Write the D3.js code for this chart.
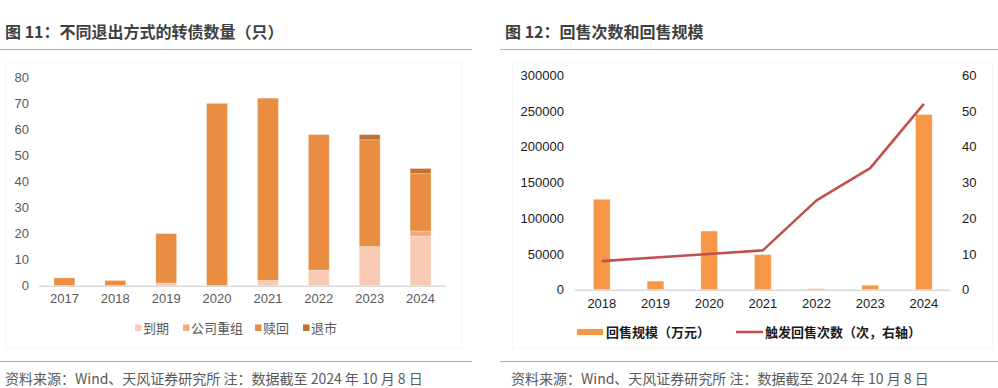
<!DOCTYPE html>
<html><head><meta charset="utf-8">
<script src="https://cdn.jsdelivr.net/npm/d3@7"></script>
<style>
body{margin:0;background:#fff;}
svg text{font-family:"Liberation Sans","Noto Sans CJK SC",sans-serif;}
.cjk{font-family:"Noto Sans CJK SC",sans-serif;}
</style></head>
<body><svg id="c" width="998" height="388"></svg>
<script>
// ---------- Data: chart 11 ----------
const years1 = ["2017","2018","2019","2020","2021","2022","2023","2024"];
const seriesNames1 = ["到期","公司重组","赎回","退市"];
const daoqi   = [0,0,1,0,2,6,15,19];
const chongzu = [0,0,0,0,0,0,0,2];
const shuhui  = [3,2,19,70,70,52,41,22];
const tuishi  = [0,0,0,0,0,0,2,2];
const yTicks1 = [0,10,20,30,40,50,60,70,80];
// ---------- Data: chart 12 ----------
const years2 = ["2018","2019","2020","2021","2022","2023","2024"];
const scale2 = [126500,12000,82000,49000,1400,6200,245000];
const count2 = [8,9,10,11,25,34,52];
const yTicksL = [0,50000,100000,150000,200000,250000,300000];
const yTicksR = [0,10,20,30,40,50,60];

const svg = d3.select("#c");
const colors1 = ["#F8CAB4","#F5A97A","#E88D42","#C2722F"];

// Titles and rules
function header(x0, x1, title){
  svg.append("text").attr("class","cjk").attr("x",x0+5).attr("y",38)
    .attr("font-size",16).attr("font-weight","bold").attr("fill","#404040").text(title);
  svg.append("line").attr("x1",x0).attr("x2",x1).attr("y1",49.5).attr("y2",49.5)
    .attr("stroke","#F4A460").attr("stroke-width",1.2);
}
header(0,472,"图 11：不同退出方式的转债数量（只）");
header(500,998,"图 12：回售次数和回售规模");
// footers
svg.append("line").attr("x1",0).attr("x2",472).attr("y1",361.5).attr("y2",361.5).attr("stroke","#F79646").attr("stroke-width",1.2);
svg.append("line").attr("x1",500).attr("x2",998).attr("y1",361.5).attr("y2",361.5).attr("stroke","#F79646").attr("stroke-width",1.2);
[[5],[511]].forEach(([x])=>{
  svg.append("text").attr("class","cjk").attr("x",x).attr("y",384).attr("font-size",14).attr("fill","#595959")
    .text("资料来源：Wind、天风证券研究所  注：数据截至 2024 年 10 月 8 日");
});
// faint chart frames
svg.append("rect").attr("x",5.5).attr("y",62.5).attr("width",456).attr("height",286).attr("fill","none").attr("stroke","#f6f6f6");
svg.append("rect").attr("x",512.5).attr("y",62.5).attr("width",480).attr("height",286).attr("fill","none").attr("stroke","#f6f6f6");

// ---------- Chart 11 ----------
{
  const x = d3.scaleBand().domain(years1).range([39,446]).paddingInner(0.59).paddingOuter(0.295);
  const y = d3.scaleLinear().domain([0,80]).range([285.7,77.3]);
  const table = years1.map((yr,i)=>({year:yr,"到期":daoqi[i],"公司重组":chongzu[i],"赎回":shuhui[i],"退市":tuishi[i]}));
  const stack = d3.stack().keys(seriesNames1)(table);
  const g = svg.append("g");
  g.selectAll("g.s").data(stack).join("g").attr("fill",(d,i)=>colors1[i])
    .selectAll("rect").data(d=>d).join("rect")
    .attr("x",d=>x(d.data.year)).attr("width",x.bandwidth())
    .attr("y",d=>y(d[1])).attr("height",d=>y(d[0])-y(d[1]))
    .attr("stroke","rgba(255,255,255,0.35)").attr("stroke-width",0.8);
  g.append("line").attr("x1",39).attr("x2",446).attr("y1",y(0)+0.5).attr("y2",y(0)+0.5).attr("stroke","#d9d9d9").attr("stroke-width",1.5);
  const ya = d3.axisLeft(y).tickValues(yTicks1).tickSize(0).tickPadding(0);
  const yg = g.append("g").attr("transform","translate(29,0)").call(ya);
  yg.select(".domain").remove();
  yg.selectAll("text").attr("font-size",13).attr("fill","#595959").attr("font-family","Liberation Sans");
  const xa = d3.axisBottom(x).tickSize(0).tickPadding(0);
  const xg = g.append("g").attr("transform",`translate(0,${y(0)+8})`).call(xa);
  xg.select(".domain").remove();
  xg.selectAll("text").attr("font-size",13).attr("fill","#595959").attr("font-family","Liberation Sans").attr("dy","0.71em");
  // legend
  const lx = [135,183,255,303];
  seriesNames1.forEach((n,i)=>{
    g.append("rect").attr("x",lx[i]).attr("y",324.5).attr("width",6.5).attr("height",6.5).attr("fill",colors1[i]);
    g.append("text").attr("class","cjk").attr("x",lx[i]+8).attr("y",332.5).attr("font-size",13).attr("fill","#595959").text(n);
  });
}

// ---------- Chart 12 ----------
{
  const x = d3.scaleBand().domain(years2).range([575,950.7]).paddingInner(0.69).paddingOuter(0.345);
  const yL = d3.scaleLinear().domain([0,300000]).range([289.7,75.3]);
  const yR = d3.scaleLinear().domain([0,60]).range([289.7,75.3]);
  const g = svg.append("g");
  g.selectAll("rect.b").data(years2).join("rect")
    .attr("x",d=>x(d)).attr("width",x.bandwidth())
    .attr("y",(d,i)=>yL(scale2[i])).attr("height",(d,i)=>yL(0)-yL(scale2[i]))
    .attr("fill","#F79646").attr("stroke","rgba(255,255,255,0.35)").attr("stroke-width",0.8);
  g.append("line").attr("x1",575).attr("x2",950.7).attr("y1",yL(0)+0.5).attr("y2",yL(0)+0.5).attr("stroke","#d9d9d9").attr("stroke-width",1.5);
  const line = d3.line().x((d,i)=>x(years2[i])+x.bandwidth()/2).y(d=>yR(d));
  g.append("path").datum(count2).attr("d",line).attr("fill","none").attr("stroke","#C0504D").attr("stroke-width",2.6).attr("stroke-linejoin","round");
  const yl = g.append("g").attr("transform","translate(564,0)").call(d3.axisLeft(yL).tickValues(yTicksL).tickSize(0).tickPadding(0).tickFormat(d3.format("d")));
  yl.select(".domain").remove();
  yl.selectAll("text").attr("font-size",13).attr("fill","#1a1a1a").attr("font-family","Liberation Sans");
  const yr = g.append("g").attr("transform","translate(962,0)").call(d3.axisRight(yR).tickValues(yTicksR).tickSize(0).tickPadding(0));
  yr.select(".domain").remove();
  yr.selectAll("text").attr("font-size",13).attr("fill","#1a1a1a").attr("font-family","Liberation Sans");
  const xg = g.append("g").attr("transform",`translate(0,${yL(0)+9})`).call(d3.axisBottom(x).tickSize(0).tickPadding(0));
  xg.select(".domain").remove();
  xg.selectAll("text").attr("font-size",13).attr("fill","#1a1a1a").attr("font-family","Liberation Sans").attr("dy","0.71em");
  // legend
  g.append("rect").attr("x",577).attr("y",329).attr("width",26).attr("height",6).attr("fill","#F79646");
  g.append("text").attr("class","cjk").attr("x",606).attr("y",337).attr("font-size",13).attr("font-weight","bold").attr("fill","#1a1a1a").text("回售规模（万元）");
  g.append("line").attr("x1",736).attr("x2",763).attr("y1",332).attr("y2",332).attr("stroke","#C0504D").attr("stroke-width",2.6);
  g.append("text").attr("class","cjk").attr("x",765).attr("y",337).attr("font-size",13).attr("font-weight","bold").attr("fill","#1a1a1a").text("触发回售次数（次，右轴）");
}
</script></body></html>
